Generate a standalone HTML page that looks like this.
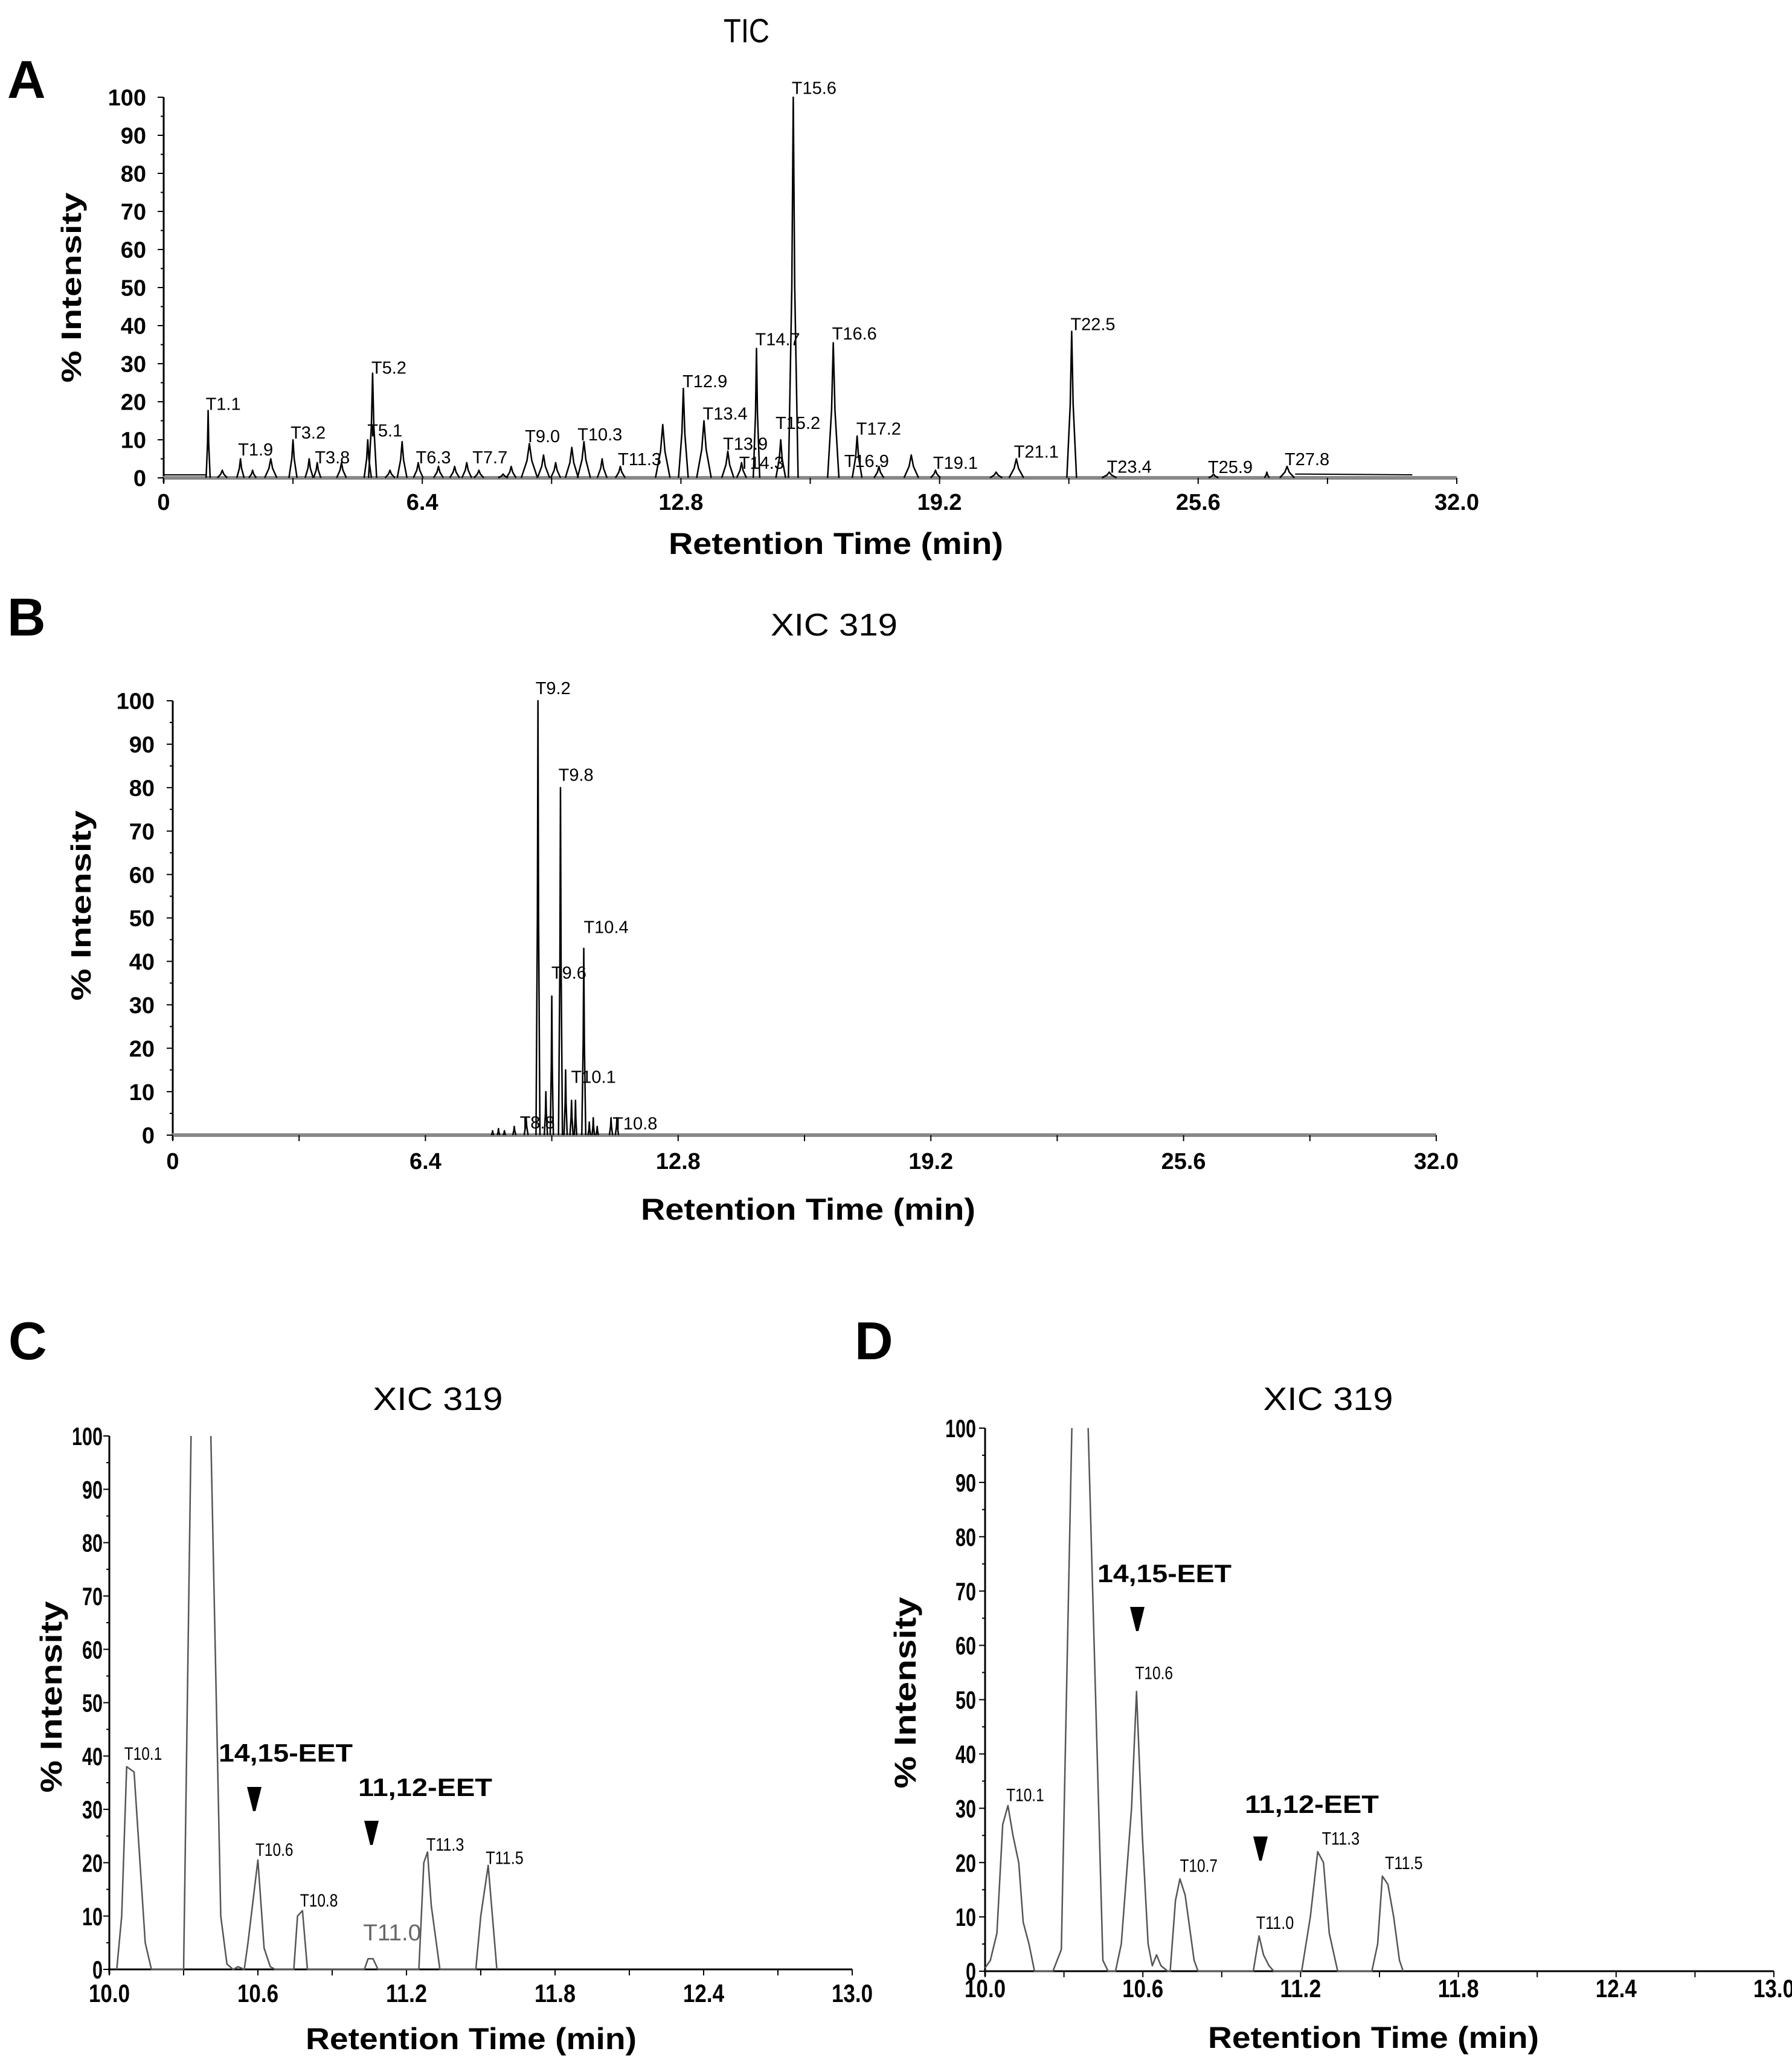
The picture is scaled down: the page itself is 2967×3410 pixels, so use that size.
<!DOCTYPE html>
<html><head><meta charset="utf-8"><style>
html,body{margin:0;padding:0;background:#fff}
svg{display:block}
text{font-family:"Liberation Sans",Arial,sans-serif}
</style></head><body>
<svg id="fig" width="2967" height="3410" viewBox="0 0 2967 3410" xmlns="http://www.w3.org/2000/svg">
<rect width="2967" height="3410" fill="#fff"/>
</svg>
<script>
// ---- Panel A (TIC) peaks: time (min), % intensity, half-width (min)
const aTimes=[1.1,1.45,1.9,2.2,2.65,3.2,3.6,3.8,4.4,5.05,5.17,5.6,5.9,6.3,6.8,7.2,7.5,7.8,8.4,8.6,9.05,9.4,9.7,10.1,10.4,10.85,11.3,12.35,12.86,13.37,13.96,14.3,14.67,15.27,15.58,16.57,17.16,17.7,18.5,19.1,20.6,21.1,22.47,23.4,25.98,27.3,27.8];
const aHeights=[17.7,2,5,2,5,10,5,4,4,10,27.5,2,9.5,4,3,3,4,2,1,3,9,6,4,8,9.5,5,3,14,23.5,15,7,4,34,10,100,35.5,11,3,6,2,1.5,5,38.5,1.5,1,1.5,3];
const aWidths=[0.05,0.12,0.09,0.09,0.15,0.1,0.1,0.09,0.12,0.09,0.1,0.12,0.12,0.12,0.12,0.12,0.12,0.12,0.12,0.12,0.2,0.15,0.12,0.16,0.16,0.12,0.12,0.18,0.12,0.18,0.15,0.12,0.08,0.12,0.12,0.14,0.12,0.12,0.18,0.12,0.15,0.18,0.12,0.18,0.12,0.06,0.18];
const aBaseTimes=[0,1.05,28.0,30.9];
const aBaseVals=[0.8,0.8,1.0,0.8];
const aLabels=["T1.1","T1.9","T3.2","T3.8","T5.2","T5.1","T6.3","T7.7","T9.0","T10.3","T11.3","T12.9","T13.4","T13.9","T14.3","T14.7","T15.2","T15.6","T16.6","T16.9","T17.2","T19.1","T21.1","T22.5","T23.4","T25.9","T27.8"];
const aLabelT=[1.1,1.9,3.2,3.8,5.2,5.1,6.3,7.7,9.0,10.3,11.3,12.9,13.4,13.9,14.3,14.7,15.2,15.6,16.6,16.9,17.2,19.1,21.1,22.5,23.4,25.9,27.8];
const aLabelY=[19.5,7.5,12,5.5,29,12.5,5.5,5.5,11,11.5,5,25.5,17,9,4,36.5,14.5,102.5,38,4.5,13,4,7,40.5,3,2.9,5];
// ---- Panel B (XIC 319 full)
const bTimes=[8.1,8.25,8.4,8.65,8.95,9.25,9.45,9.6,9.82,9.95,10.1,10.2,10.41,10.55,10.65,10.75,11.1,11.25];
const bHeights=[1,1.5,1,2,4,100,10,32,80,15,8,8,43,3,4,2,4,4];
const bWidths=[0.03,0.03,0.03,0.04,0.05,0.05,0.04,0.04,0.05,0.04,0.04,0.03,0.05,0.03,0.03,0.03,0.04,0.04];
const bLabels=["T9.2","T9.8","T10.4","T9.6","T10.1","T8.8","T10.8"];
const bLabelT=[9.25,9.83,10.47,9.65,10.15,8.85,11.2];
const bLabelY=[103,83,48,37.5,13.5,3,2.8];
// ---- Panel C trace
const cTimes=[10.03,10.05,10.07,10.1,10.145,10.17,10.30,10.33,10.41,10.45,10.475,10.5,10.52,10.545,10.56,10.6,10.625,10.65,10.67,10.745,10.76,10.78,10.8,11.03,11.045,11.065,11.085,11.25,11.27,11.285,11.3,11.335,11.48,11.5,11.53,11.565];
const cVals=[0,10,38,37,5,0,0,100,100,10,1,0,0.5,0,5,20.5,4,0.5,0,0,10,11,0,0,2,2,0,0,20,22,12,0,0,10,19.5,0];
const cLabels=["T10.1","T10.6","T10.8","T11.3","T11.5"];
const cLabelT=[10.07,10.6,10.78,11.29,11.53];
const cLabelY=[40.5,22.5,13,23.5,21];
// ---- Panel D trace
const dTimes=[10.0,10.02,10.045,10.067,10.087,10.106,10.128,10.145,10.167,10.188,10.258,10.29,10.33,10.392,10.448,10.468,10.496,10.518,10.557,10.576,10.598,10.62,10.636,10.652,10.669,10.695,10.704,10.724,10.741,10.761,10.795,10.81,11.02,11.042,11.059,11.08,11.098,11.204,11.237,11.265,11.287,11.309,11.341,11.471,11.493,11.511,11.532,11.554,11.576,11.59];
const dVals=[0.6,2,7,27,30.5,25,20,9,5,0,0,4,100,100,2,0,0,5,30,51.5,25,5,1,3,1,0,0,13,17,14,2,0,0,6.5,3,1,0,0,10,22,20,7,0,0,5,17.5,16,10,2,0];
const dLabels=["T10.1","T10.6","T10.7","T11.0","T11.3","T11.5"];
const dLabelT=[10.09,10.58,10.75,11.04,11.29,11.53];
const dLabelY=[32.5,55,19.5,9,24.5,20];
// tick labels
const tickFull=["0","6.4","12.8","19.2","25.6","32.0"];
const tickZoom=["10.0","10.6","11.2","11.8","12.4","13.0"];
const yTicks=["0","10","20","30","40","50","60","70","80","90","100"];

const NS="http://www.w3.org/2000/svg";
const svg=document.getElementById('fig');
function mk(tag,attrs,parent){const e=document.createElementNS(NS,tag);for(const k in attrs)e.setAttribute(k,attrs[k]);(parent||svg).appendChild(e);return e;}
function txt(s,attrs,parent){const e=mk('text',attrs,parent);e.textContent=s;return e;}

function makeAxes(P){
  const g=mk('g',{});
  
  
  P.g=g;
  P.x=v=>P.x0+(v-P.xmin)/(P.xmax-P.xmin)*(P.x1-P.x0);
  P.y=v=>P.y0-v/100*(P.y0-P.y1);
  const ya=mk('line',{x1:P.x0,y1:P.y0+8,x2:P.x0,y2:P.y1,stroke:'#000','stroke-width':3},g);
  
  const xa=mk('line',{x1:P.x0-2,y1:P.y0,x2:P.x1,y2:P.y0,stroke:P.xaxisColor,'stroke-width':P.xaxisW},g);
  
  for(let i=0;i<=20;i++){const v=i*5;const yy=P.y(v);
    mk('line',{x1:P.x0-(i%2?5:10),y1:yy,x2:P.x0,y2:yy,stroke:'#000','stroke-width':2},g);}
  yTicks.forEach((s,i)=>{const v=i*10;
    const t=txt(s,{x:P.ylabX,y:P.y(v)+P.tickFs*0.36,'text-anchor':'end','font-weight':'bold','font-size':P.tickFs,fill:'#000'},g);
    if(P.condensed){t.setAttribute('textLength',s.length*P.charW);t.setAttribute('lengthAdjust','spacingAndGlyphs');}
    });
  const labs=P.ticks;const n=labs.length-1;
  for(let i=0;i<=n*2;i++){const xx=P.x0+(P.x1-P.x0)*i/(n*2);
    mk('line',{x1:xx,y1:P.y0,x2:xx,y2:P.y0+10,stroke:'#000','stroke-width':2},g);}
  labs.forEach((s,i)=>{const xx=P.x0+(P.x1-P.x0)*i/n;
    const t=txt(s,{x:xx,y:P.xlabY,'text-anchor':'middle','font-weight':'bold','font-size':P.tickFs,fill:'#000'},g);
    if(P.condensed){t.setAttribute('textLength',s.length*P.charW);t.setAttribute('lengthAdjust','spacingAndGlyphs');}
    });
  const xt=txt('Retention Time (min)',{x:P.xtX,y:P.xtY,'text-anchor':'middle','font-weight':'bold','font-size':P.xtFs,textLength:P.xtLen,lengthAdjust:'spacingAndGlyphs'},g);
  
  const yt=txt('% Intensity',{x:0,y:0,'text-anchor':'middle','font-weight':'bold','font-size':P.ytFs,textLength:P.ytLen,lengthAdjust:'spacingAndGlyphs',transform:`translate(${P.ytX},${P.ytY}) rotate(-90)`},g);
  
  const tt=txt(P.title,{x:P.tX,y:P.tY,'text-anchor':'middle','font-size':P.tFs,textLength:P.tLen,lengthAdjust:'spacingAndGlyphs'},g);
  
  const lt=txt(P.letter,{x:P.lX,y:P.lY,'font-weight':'bold','font-size':88},g);
  
  return P;
}
function drawPeaks(P,times,heights,widths,color,sw){
  times.forEach((t,i)=>{
    const h=heights[i],w=widths[i];
    const d=`M${P.x(t-w)},${P.y0} L${P.x(t-w*0.3)},${P.y(h*0.5)} L${P.x(t)},${P.y(h)} L${P.x(t+w*0.3)},${P.y(h*0.5)} L${P.x(t+w)},${P.y0}`;
    const p=mk('path',{d:d,fill:'none',stroke:color,'stroke-width':sw,'stroke-linejoin':'round'},P.g);
    
    
  });
}
function drawTrace(P,times,vals,color,sw){
  // break the line where consecutive points are off-scale (open top, as in original)
  let d='';let pen=false;
  times.forEach((t,i)=>{
    const off=i>0&&vals[i]>=100&&vals[i-1]>=100;
    d+=(pen&&!off?'L':'M')+P.x(t)+','+P.y(vals[i])+' ';
    pen=true;
  });
  const p=mk('path',{d:d,fill:'none',stroke:color,'stroke-width':sw,'stroke-linejoin':'round'},P.g);
  
  
}
function drawLabels(P,labels,lt,ly,fs,cond){
  labels.forEach((s,i)=>{
    const t=txt(s,{x:P.x(lt[i])-4,y:P.y(ly[i])+fs*0.36,'font-size':fs,fill:'#000'},P.g);
    if(cond){t.setAttribute('textLength',s.length*cond);t.setAttribute('lengthAdjust','spacingAndGlyphs');}
    
    
  });
}
function eet(P,s,x,y,ax,ay){
  const t=txt(s,{x:x,y:y,'font-weight':'bold','font-size':42,textLength:222,lengthAdjust:'spacingAndGlyphs'},P.g);
  
  
  const a=mk('path',{d:`M${ax-12},${ay-20} L${ax+12},${ay-20} L${ax+2},${ay+20} L${ax-2},${ay+20} Z`,fill:'#000'},P.g);
  
  
}

// Panel A
const A=makeAxes({id:'panel-a',x0:271,x1:2412,y0:791,y1:161,xmin:0,xmax:32,ticks:tickFull,xaxisColor:'#888',xaxisW:6,
 tickFs:38,ylabX:242,xlabY:844,xtX:1384,xtY:917,xtFs:50,xtLen:554,ytX:134,ytY:476,ytFs:46,ytLen:315,
 title:'TIC',tX:1236,tY:70,tFs:56,tLen:76,letter:'A',lX:12,lY:162});
mk('polyline',{points:aBaseTimes.slice(0,2).map((t,i)=>`${A.x(t)},${A.y(aBaseVals[i])}`).join(' '),fill:'none',stroke:'#000','stroke-width':2},A.g);
mk('polyline',{points:aBaseTimes.slice(2).map((t,i)=>`${A.x(t)},${A.y(aBaseVals[i+2])}`).join(' '),fill:'none',stroke:'#000','stroke-width':2},A.g);
drawPeaks(A,aTimes,aHeights,aWidths,'#000',2.5);
drawLabels(A,aLabels,aLabelT,aLabelY,29,0);

// Panel B
const B=makeAxes({id:'panel-b',x0:286,x1:2378,y0:1879,y1:1160,xmin:0,xmax:32,ticks:tickFull,xaxisColor:'#888',xaxisW:6,
 tickFs:38,ylabX:256,xlabY:1935,xtX:1338,xtY:2019,xtFs:50,xtLen:554,ytX:150,ytY:1499,ytFs:46,ytLen:315,
 title:'XIC 319',tX:1381,tY:1052,tFs:52,tLen:210,letter:'B',lX:12,lY:1052});
drawPeaks(B,bTimes,bHeights,bWidths,'#000',2.5);
drawLabels(B,bLabels,bLabelT,bLabelY,29,0);

// Panel C
const C=makeAxes({id:'panel-c',x0:181,x1:1411,y0:3260,y1:2377,xmin:10,xmax:13,ticks:tickZoom,xaxisColor:'#000',xaxisW:3,
 tickFs:42,condensed:true,charW:17,ylabX:170,xlabY:3314,xtX:780,xtY:3392,xtFs:50,xtLen:548,ytX:102,ytY:2809,ytFs:50,ytLen:317,
 title:'XIC 319',tX:725,tY:2334,tFs:54,tLen:215,letter:'C',lX:14,lY:2250});
drawTrace(C,cTimes,cVals,'#555',2.5);
drawLabels(C,cLabels,cLabelT,cLabelY,30,12.5);
const c11=txt('T11.0',{x:C.x(11.03)-2,y:C.y(7)+14,'font-size':38,fill:'#666',textLength:96,lengthAdjust:'spacingAndGlyphs'},C.g);


eet(C,'14,15-EET',362,2916,421,2978);
eet(C,'11,12-EET',593,2973,615,3034);

// Panel D
const D=makeAxes({id:'panel-d',x0:1631,x1:2937,y0:3263,y1:2364,xmin:10,xmax:13,ticks:tickZoom,xaxisColor:'#000',xaxisW:3,
 tickFs:42,condensed:true,charW:17,ylabX:1616,xlabY:3306,xtX:2274,xtY:3390,xtFs:50,xtLen:548,ytX:1516,ytY:2802,ytFs:50,ytLen:317,
 title:'XIC 319',tX:2199,tY:2334,tFs:54,tLen:215,letter:'D',lX:1415,lY:2250});
drawTrace(D,dTimes,dVals,'#555',2.5);
drawLabels(D,dLabels,dLabelT,dLabelY,30,12.5);
eet(D,'14,15-EET',1817,2619,1883,2680);
eet(D,'11,12-EET',2061,3001,2087,3060);
</script>
</body></html>
